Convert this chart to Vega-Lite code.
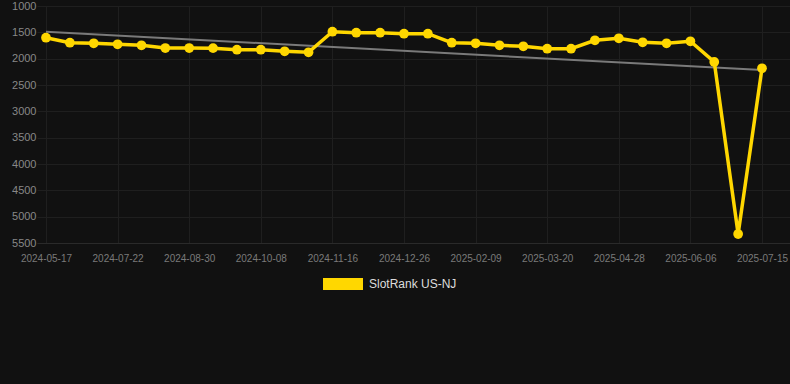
{
  "$schema": "https://vega.github.io/schema/vega-lite/v6.json",
  "autosize": {"type": "none"},
  "padding": {"left": 37, "top": 6, "right": 0, "bottom": 141},
  "width": 753,
  "height": 237,
  "background": "#111111",
  "config": {
    "view": {"stroke": null},
    "font": "Liberation Sans"
  },
  "datasets": {
    "rank": [
      {"date": "2024-05-17", "rank": 1602},
      {"date": "2024-06-08", "rank": 1697},
      {"date": "2024-06-30", "rank": 1708},
      {"date": "2024-07-22", "rank": 1727},
      {"date": "2024-08-04", "rank": 1746},
      {"date": "2024-08-17", "rank": 1798},
      {"date": "2024-08-30", "rank": 1798},
      {"date": "2024-09-12", "rank": 1800},
      {"date": "2024-09-25", "rank": 1830},
      {"date": "2024-10-08", "rank": 1830},
      {"date": "2024-10-21", "rank": 1860},
      {"date": "2024-11-03", "rank": 1879},
      {"date": "2024-11-16", "rank": 1488},
      {"date": "2024-11-29", "rank": 1507},
      {"date": "2024-12-12", "rank": 1507},
      {"date": "2024-12-26", "rank": 1526},
      {"date": "2025-01-10", "rank": 1526},
      {"date": "2025-01-25", "rank": 1697},
      {"date": "2025-02-09", "rank": 1708},
      {"date": "2025-02-22", "rank": 1746},
      {"date": "2025-03-07", "rank": 1765},
      {"date": "2025-03-20", "rank": 1811},
      {"date": "2025-04-02", "rank": 1811},
      {"date": "2025-04-15", "rank": 1651},
      {"date": "2025-04-28", "rank": 1613},
      {"date": "2025-05-11", "rank": 1689},
      {"date": "2025-05-24", "rank": 1708},
      {"date": "2025-06-06", "rank": 1670},
      {"date": "2025-06-19", "rank": 2063},
      {"date": "2025-07-02", "rank": 5330},
      {"date": "2025-07-15", "rank": 2183}
    ],
    "trend": [
      {"date": "2024-05-17", "rank": 1488},
      {"date": "2025-07-15", "rank": 2215}
    ]
  },
  "encoding": {
    "x": {
      "field": "date",
      "type": "ordinal",
      "scale": {"type": "point", "padding": 0.775, "align": 0.243},
      "axis": {
        "title": null,
        "values": ["2024-05-17", "2024-07-22", "2024-08-30", "2024-10-08", "2024-11-16", "2024-12-26", "2025-02-09", "2025-03-20", "2025-04-28", "2025-06-06", "2025-07-15"],
        "labelAngle": 0,
        "labelFontSize": 10,
        "labelColor": "#7a7a7a",
        "labelPadding": 10,
        "ticks": false,
        "domainColor": "#2a2a2a",
        "grid": true,
        "gridColor": "#1f1f1f",
        "gridWidth": 1
      }
    },
    "y": {
      "field": "rank",
      "type": "quantitative",
      "scale": {"domain": [1000, 5500], "reverse": true, "nice": false, "zero": false},
      "axis": {
        "title": null,
        "values": [1000, 1500, 2000, 2500, 3000, 3500, 4000, 4500, 5000, 5500],
        "format": "d",
        "labelFontSize": 11,
        "labelColor": "#888888",
        "labelPadding": 1,
        "ticks": false,
        "domain": false,
        "grid": true,
        "gridColor": "#1f1f1f",
        "gridWidth": 1
      }
    }
  },
  "layer": [
    {
      "data": {"name": "trend"},
      "mark": {"type": "line", "color": "#7a7a7a", "strokeWidth": 2}
    },
    {
      "data": {"name": "rank"},
      "mark": {"type": "line", "strokeWidth": 3.5},
      "encoding": {
        "color": {
          "datum": "SlotRank US-NJ",
          "scale": {"range": ["#FFD700"]},
          "legend": {
            "title": null,
            "orient": "none",
            "legendX": 286,
            "legendY": 258,
            "symbolType": "M-1,-0.3H1V0.3H-1Z",
            "symbolSize": 1600,
            "symbolFillColor": "#FFD700",
            "symbolStrokeColor": "#FFD700",
            "symbolStrokeWidth": 0,
            "labelColor": "#dddddd",
            "labelFontSize": 12,
            "labelOffset": 6
          }
        }
      }
    },
    {
      "data": {"name": "rank"},
      "mark": {"type": "point", "filled": true, "opacity": 1, "size": 95},
      "encoding": {
        "color": {"datum": "SlotRank US-NJ"}
      }
    }
  ]
}
